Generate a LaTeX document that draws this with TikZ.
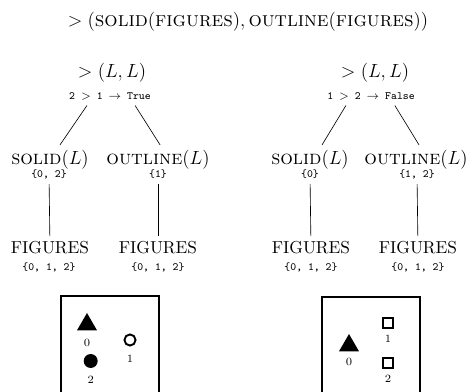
\documentclass[tikz,border=0pt]{standalone}
\usepackage{amsmath}
\usepackage{tikz}
\usetikzlibrary{shapes.geometric, positioning}

\tikzset{
  head/.style={font=\fontsize{13.2pt}{16pt}\selectfont},
  fn/.style={font=\fontsize{12.5pt}{15pt}\selectfont},
  base/.style={font=\fontsize{10.9pt}{13pt}\selectfont},
  cmp/.style={font=\scriptsize\ttfamily},
  setlbl/.style={font=\scriptsize\ttfamily},
  num/.style={font=\scriptsize, inner sep=1pt},
  tri/.style={regular polygon, regular polygon sides=3, fill, minimum size=14.5pt, inner sep=0pt},
  ring/.style={circle, draw, very thick, minimum size=7pt, inner sep=0pt},
  dot/.style={circle, fill, minimum size=8.8pt, inner sep=0pt},
  sq/.style={rectangle, draw, very thick, minimum size=6.2pt, inner sep=0pt},
}

\begin{document}
\begin{tikzpicture}[x=0.63pt,y=-0.63pt]
\useasboundingbox (0,0) rectangle (470,392);
\node[head] (top) at (248,22) {$>(\textsc{solid}(\textsc{figures}),\textsc{outline}(\textsc{figures}))$};

% left tree
\node[fn] (gtA) at (112,73) {$>(L,L)$};
\node[cmp] (resA) at (110,96) {2 $>$ 1 $\rightarrow$ True};
\node[fn] (solA) at (50,160) {\textsc{solid}$(L)$};
\node[setlbl] (solAset) at (49,174) {\{0, 2\}};
\node[fn] (outA) at (158,160) {\textsc{outline}$(L)$};
\node[setlbl] (outAset) at (158,174) {\{1\}};
\node[base] (figA1) at (50,248) {FIGURES};
\node[setlbl] (figA1set) at (49,267) {\{0, 1, 2\}};
\node[base] (figA2) at (158,248) {FIGURES};
\node[setlbl] (figA2set) at (158,267) {\{0, 1, 2\}};
\draw ([xshift=-14.5pt]resA.south) -- ([xshift=6.3pt]solA.north);
\draw ([xshift=15.8pt]resA.south) -- ([xshift=1.3pt]outA.north);
\draw (solAset) -- (figA1);
\draw (outAset) -- (figA2);

% right tree
\node[fn] (gtB) at (375,73) {$>(L,L)$};
\node[cmp] (resB) at (371,96) {1 $>$ 2 $\rightarrow$ False};
\node[fn] (solB) at (310,160) {\textsc{solid}$(L)$};
\node[setlbl] (solBset) at (310,174) {\{0\}};
\node[fn] (outB) at (416,160) {\textsc{outline}$(L)$};
\node[setlbl] (outBset) at (417,174) {\{1, 2\}};
\node[base] (figB1) at (311,248) {FIGURES};
\node[setlbl] (figB1set) at (311,267) {\{0, 1, 2\}};
\node[base] (figB2) at (418,248) {FIGURES};
\node[setlbl] (figB2set) at (418,267) {\{0, 1, 2\}};
\draw ([xshift=-15.8pt]resB.south) -- ([xshift=7.6pt]solB.north);
\draw ([xshift=15pt]resB.south) -- ([xshift=1.9pt]outB.north);
\draw (solBset) -- (figB1);
\draw (outBset) -- (figB2);

% scenes
\draw[very thick] (61,296) rectangle (159,420);
\node[tri] (triA) at (87,324.5) {};
\node[num, below=4pt of triA] (triAn) {0};
\node[ring] (ringA) at (130,340) {};
\node[num, below=4.2pt of ringA] (ringAn) {1};
\node[dot] (dotA) at (90.7,361) {};
\node[num, below=3.7pt of dotA] (dotAn) {2};

\draw[very thick] (322,297) rectangle (420,420);
\node[tri] (triB) at (349,345.5) {};
\node[num, below=3pt of triB] (triBn) {0};
\node[sq] (sqB1) at (388,322.7) {};
\node[num, below=2.8pt of sqB1] (sqB1n) {1};
\node[sq] (sqB2) at (388,363) {};
\node[num, below=2.8pt of sqB2] (sqB2n) {2};
\end{tikzpicture}
\end{document}
